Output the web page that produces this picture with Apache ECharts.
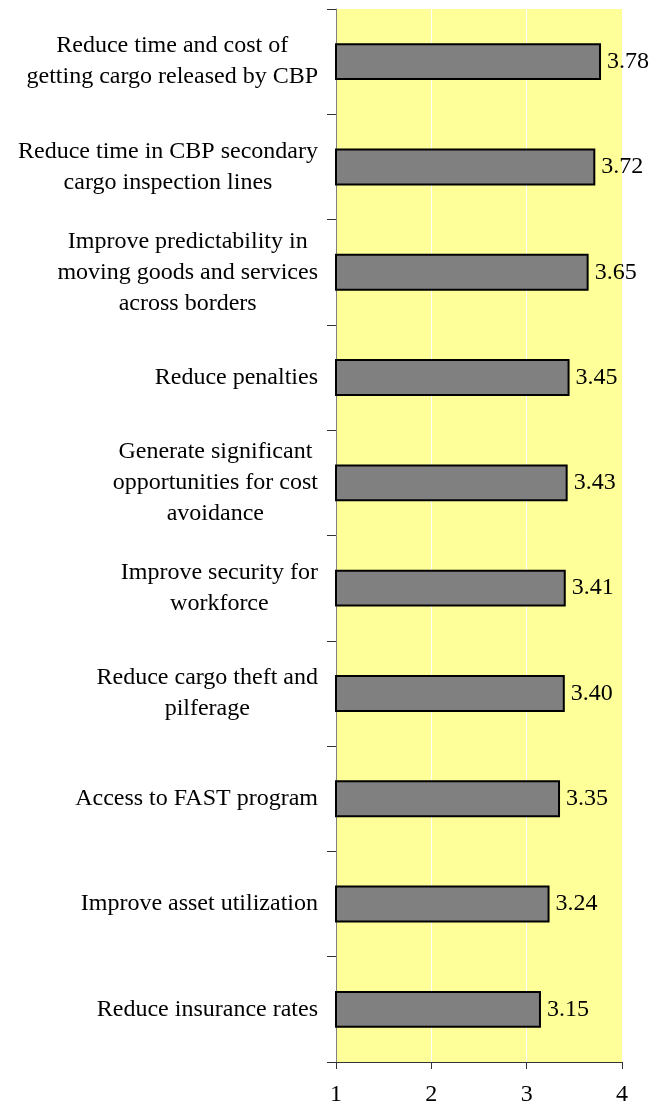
<!DOCTYPE html>
<html>
<head>
<meta charset="utf-8">
<script src="https://cdn.jsdelivr.net/npm/echarts@6/dist/echarts.min.js"></script>
<style>
html,body{margin:0;padding:0;background:#fff;}
#chart{width:660px;height:1107px;}
</style>
</head>
<body>
<div id="chart"></div>
<script>
const categories = [
  "Reduce time and cost of\ngetting cargo released by CBP",
  "Reduce time in CBP secondary\ncargo inspection lines",
  "Improve predictability in\nmoving goods and services\nacross borders",
  "Reduce penalties",
  "Generate significant\nopportunities for cost\navoidance",
  "Improve security for\nworkforce",
  "Reduce cargo theft and\npilferage",
  "Access to FAST program",
  "Improve asset utilization",
  "Reduce insurance rates"
];
const values = [3.78, 3.72, 3.65, 3.45, 3.43, 3.41, 3.40, 3.35, 3.24, 3.15];
const xTicks = [1, 2, 3, 4];

const FONT = "'Liberation Serif','Times New Roman',serif";
const chart = echarts.init(document.getElementById('chart'));
chart.setOption({
  animation: false,
  backgroundColor: '#ffffff',
  grid: {
    left: 336, right: 38, top: 9, bottom: 44,
    show: true, backgroundColor: '#FFFF99', borderWidth: 0
  },
  xAxis: {
    type: 'value',
    min: xTicks[0], max: xTicks[xTicks.length - 1], interval: 1,
    axisLine: { show: true, onZero: false, lineStyle: { color: '#333', width: 1 } },
    axisTick: { show: true, length: 7, lineStyle: { color: '#333' } },
    axisLabel: { fontSize: 24, fontFamily: FONT, color: '#000', margin: 21 },
    splitLine: { show: true, lineStyle: { color: '#ffffff', width: 1 } }
  },
  yAxis: {
    type: 'category',
    data: categories,
    inverse: true,
    axisLine: { show: true, lineStyle: { color: '#808080', width: 1 } },
    axisTick: { show: true, length: 9, alignWithLabel: false, lineStyle: { color: '#333' } },
    axisLabel: {
      interval: 0,
      margin: 18,
      formatter: function (v) {
        return v.split('\n').map(function (l) { return '{c|' + l + '}'; }).join('\n');
      },
      rich: {
        c: { align: 'center', fontSize: 24, fontFamily: FONT, color: '#000', lineHeight: 31 }
      }
    },
    splitLine: { show: false }
  },
  series: [{
    type: 'bar',
    data: values,
    barCategoryGap: '65%',
    itemStyle: { color: '#808080', borderColor: '#000', borderWidth: 2 },
    label: {
      show: true, position: 'right', distance: 6,
      formatter: function (p) { return p.value.toFixed(2); },
      fontSize: 24, fontFamily: FONT, color: '#000'
    }
  }]
});
</script>
</body>
</html>
